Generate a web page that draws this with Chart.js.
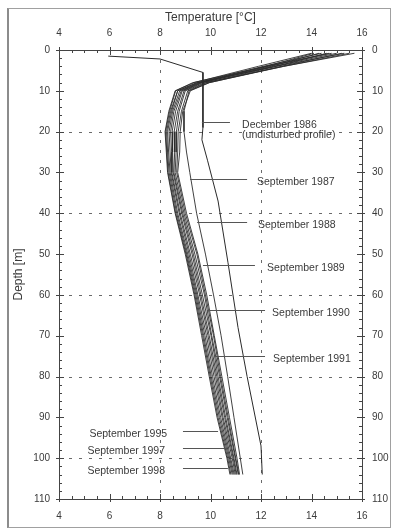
<!DOCTYPE html>
<html>
<head>
<meta charset="utf-8">
<script src="https://cdn.jsdelivr.net/npm/chart.js@4.4.0/dist/chart.umd.min.js"></script>
<style>
  html, body { margin: 0; padding: 0; background: #fff; }
  #wrap { position: relative; width: 393px; height: 529px; }
  #frame { position: absolute; left: 7px; top: 8px; width: 381px; height: 518px;
           border: 1px solid #a0a0a0; border-left: 2px solid #8c8c8c; pointer-events: none; }
  canvas { position: absolute; left: 0; top: 0; }
</style>
</head>
<body>
<div id="wrap">
  <canvas id="profileChart" width="393" height="529"></canvas>
  <div id="frame"></div>
</div>
<script>
// depth [m] of the september readings
const sepDepths = [0.8, 4, 8, 10, 15, 20, 25, 30, 40, 50, 60, 70, 80, 90, 100, 104];

// temperature [°C] per september profile
const sep1987 = [15.7, 12.9, 9.95, 9.15, 8.95, 8.95, 9.05, 9.18, 9.45, 9.8, 10.12, 10.42, 10.68, 10.93, 11.18, 11.28];
const sep1988 = [15.2, 12.8, 9.95, 9.2, 8.9, 8.8, 8.78, 8.7, 9.05, 9.5, 9.85, 10.15, 10.45, 10.75, 11.05, 11.15];
const sep1989 = [14.6, 12.6, 9.85, 9.1, 8.85, 8.72, 8.7, 8.66, 9.0, 9.46, 9.8, 10.12, 10.4, 10.7, 11.0, 11.12];
const sep1990 = [15.5, 12.9, 9.8, 9.0, 8.76, 8.65, 8.64, 8.6, 8.95, 9.38, 9.76, 10.05, 10.36, 10.66, 10.98, 11.1];
const sep1991 = [14.3, 12.4, 9.7, 8.95, 8.7, 8.56, 8.58, 8.55, 8.9, 9.32, 9.68, 10.02, 10.3, 10.6, 10.93, 11.05];
const sep1992 = [15.0, 12.5, 9.65, 8.88, 8.62, 8.48, 8.5, 8.52, 8.86, 9.27, 9.62, 9.95, 10.25, 10.56, 10.9, 11.02];
const sep1993 = [14.1, 12.2, 9.6, 8.84, 8.55, 8.42, 8.46, 8.47, 8.8, 9.2, 9.57, 9.9, 10.2, 10.5, 10.86, 10.98];
const sep1994 = [14.8, 12.3, 9.55, 8.78, 8.5, 8.36, 8.4, 8.44, 8.76, 9.15, 9.5, 9.84, 10.14, 10.46, 10.8, 10.94];
const sep1995 = [14.4, 12.1, 9.5, 8.7, 8.46, 8.3, 8.34, 8.4, 8.7, 9.1, 9.46, 9.78, 10.08, 10.4, 10.76, 10.9];
const sep1996 = [15.3, 12.6, 9.45, 8.7, 8.42, 8.26, 8.3, 8.36, 8.66, 9.06, 9.42, 9.73, 10.03, 10.35, 10.72, 10.86];
const sep1997 = [14.0, 11.9, 9.35, 8.62, 8.38, 8.22, 8.27, 8.32, 8.62, 9.03, 9.38, 9.69, 9.99, 10.3, 10.68, 10.81];
const sep1998 = [14.7, 12.2, 9.3, 8.6, 8.35, 8.2, 8.25, 8.3, 8.6, 9.0, 9.35, 9.65, 9.95, 10.26, 10.65, 10.77];
const sepProfiles = [sep1987, sep1988, sep1989, sep1990, sep1991, sep1992,
                     sep1993, sep1994, sep1995, sep1996, sep1997, sep1998];

// undisturbed profile, december 1986
const decDepths = [1.5, 2.2, 5.5, 19, 22, 27, 37, 52, 68, 80, 97, 104];
const dec1986   = [5.95, 8.0, 9.7, 9.7, 9.66, 9.88, 10.3, 10.69, 11.09, 11.45, 12.0, 12.05];

// labels with their leader lines (depth, temp from -> temp to, text anchor temp)
const labelTexts  = ['December 1986\n(undisturbed profile)', 'September 1987', 'September 1988',
                     'September 1989', 'September 1990', 'September 1991',
                     'September 1995', 'September 1997', 'September 1998'];
const labelDepths = [17.6, 31.6, 42.1, 52.7, 63.7, 75.0, 93.3, 97.5, 102.4];
const leaderFrom  = [9.66, 9.19, 9.47, 9.7, 9.86, 10.18, 8.91, 8.91, 8.91];
const leaderTo    = [10.77, 11.45, 11.45, 11.76, 12.16, 12.16, 10.3, 10.65, 10.69];
const textAt      = [11.25, 11.84, 11.88, 12.24, 12.44, 12.48, 8.28, 8.2, 8.2];

const tempTicks = [4, 6, 8, 10, 12, 14, 16];
const gridTemps = [8, 12];
const gridDepths = [20, 40, 60, 80, 100];

const FONT = "'Liberation Sans', Arial, sans-serif";
const INK = '#3a3a3a';

const datasets = sepProfiles.map((temps) => ({
  data: temps.map((t, i) => ({ x: t, y: sepDepths[i] })),
  borderColor: '#2b2b2b',
  borderWidth: 0.9
}));
datasets.push({
  data: dec1986.map((t, i) => ({ x: t, y: decDepths[i] })),
  borderColor: '#2a2a2a',
  borderWidth: 1
});
datasets.forEach(ds => {
  ds.showLine = true;
  ds.pointRadius = 0;
  ds.tension = 0;
  ds.xAxisID = 'x';
  ds.yAxisID = 'y';
});

// dotted grid (only every 4 °C / 20 m)
const dottedGrid = {
  id: 'dottedGrid',
  beforeDatasetsDraw(chart) {
    const { ctx, chartArea: a, scales } = chart;
    ctx.save();
    ctx.strokeStyle = '#6a6a6a';
    ctx.lineWidth = 1;
    ctx.setLineDash([3, 7]);
    ctx.beginPath();
    gridTemps.forEach(t => {
      const px = Math.round(scales.x.getPixelForValue(t)) + 0.5;
      ctx.moveTo(px, a.top); ctx.lineTo(px, a.bottom);
    });
    gridDepths.forEach(d => {
      const py = Math.round(scales.y.getPixelForValue(d)) + 0.5;
      ctx.moveTo(a.left, py); ctx.lineTo(a.right, py);
    });
    ctx.stroke();
    ctx.restore();
  }
};

// minor / major tick marks on all four sides
const frameTicks = {
  id: 'frameTicks',
  afterDraw(chart) {
    const { ctx, chartArea: a, scales } = chart;
    ctx.save();
    ctx.strokeStyle = '#444';
    ctx.lineWidth = 1;
    ctx.beginPath();
    for (let i = 0; i <= 24; i++) {
      const t = 4 + i * 0.5;
      const px = Math.round(scales.x.getPixelForValue(t)) + 0.5;
      const major = i % 4 === 0;
      const len = major ? 5 : 3;
      ctx.moveTo(px, a.top - (major ? 3 : 0)); ctx.lineTo(px, a.top + len);
      ctx.moveTo(px, a.bottom + (major ? 3 : 0)); ctx.lineTo(px, a.bottom - len);
    }
    for (let d = 0; d <= 110; d += 2) {
      const py = Math.round(scales.y.getPixelForValue(d)) + 0.5;
      const major = d % 10 === 0;
      const len = major ? 5 : 3;
      ctx.moveTo(a.left - (major ? 3 : 0), py); ctx.lineTo(a.left + len, py);
      ctx.moveTo(a.right + (major ? 3 : 0), py); ctx.lineTo(a.right - len, py);
    }
    ctx.stroke();
    ctx.restore();
  }
};

// year labels with leader lines
const yearLabels = {
  id: 'yearLabels',
  afterDatasetsDraw(chart) {
    const { ctx, scales } = chart;
    ctx.save();
    ctx.font = '10.5px ' + FONT;
    ctx.fillStyle = INK;
    ctx.strokeStyle = '#555';
    ctx.lineWidth = 1;
    labelTexts.forEach((txt, i) => {
      const py = Math.round(scales.y.getPixelForValue(labelDepths[i])) + 0.5;
      const x0 = scales.x.getPixelForValue(leaderFrom[i]);
      const x1 = scales.x.getPixelForValue(leaderTo[i]);
      ctx.beginPath();
      ctx.moveTo(x0, py); ctx.lineTo(x1, py);
      ctx.stroke();
      const tx = scales.x.getPixelForValue(textAt[i]);
      const onLeft = textAt[i] < leaderFrom[i];
      ctx.textAlign = onLeft ? 'right' : 'left';
      ctx.textBaseline = 'middle';
      txt.split('\n').forEach((line, j) => {
        ctx.fillText(line, tx, py + 3 + j * 10);
      });
    });
    ctx.restore();
  }
};

const tickFont = { family: FONT, size: 10 };
const axisBorder = { display: true, color: '#444', width: 1 };
const noGrid = { display: false, drawTicks: false };

const config = {
  type: 'scatter',
  data: { datasets: datasets },
  options: {
    responsive: false,
    animation: false,
    devicePixelRatio: 1,
    layout: { padding: 0 },
    plugins: { legend: { display: false }, tooltip: { enabled: false } },
    scales: {
      x: {
        type: 'linear', position: 'top', min: 4, max: 16,
        afterBuildTicks: (s) => { s.ticks = tempTicks.map(v => ({ value: v })); },
        ticks: { font: tickFont, color: INK, padding: 11, maxRotation: 0 },
        grid: noGrid,
        border: axisBorder,
        title: { display: true, text: 'Temperature [°C]', color: INK,
                 font: { family: FONT, size: 12 }, padding: { top: 10, bottom: 0 } },
        afterFit: (s) => { s.height = 50; }
      },
      x2: {
        type: 'linear', position: 'bottom', min: 4, max: 16,
        afterBuildTicks: (s) => { s.ticks = tempTicks.map(v => ({ value: v })); },
        ticks: { font: tickFont, color: INK, padding: 11, maxRotation: 0 },
        grid: noGrid,
        border: axisBorder,
        afterFit: (s) => { s.height = 30; }
      },
      y: {
        type: 'linear', position: 'left', reverse: true, min: 0, max: 110,
        ticks: { stepSize: 10, font: tickFont, color: INK, padding: 9 },
        grid: noGrid,
        border: axisBorder,
        title: { display: true, text: 'Depth [m]', color: INK,
                 font: { family: FONT, size: 12 }, padding: { top: 11, bottom: 0 } },
        afterFit: (s) => { s.width = 59; }
      },
      y2: {
        type: 'linear', position: 'right', reverse: true, min: 0, max: 110,
        ticks: { stepSize: 10, font: tickFont, color: INK, padding: 10 },
        grid: noGrid,
        border: axisBorder,
        afterFit: (s) => { s.width = 31; }
      }
    }
  },
  plugins: [dottedGrid, frameTicks, yearLabels]
};

const profileChart = new Chart(document.getElementById('profileChart'), config);
</script>
</body>
</html>
